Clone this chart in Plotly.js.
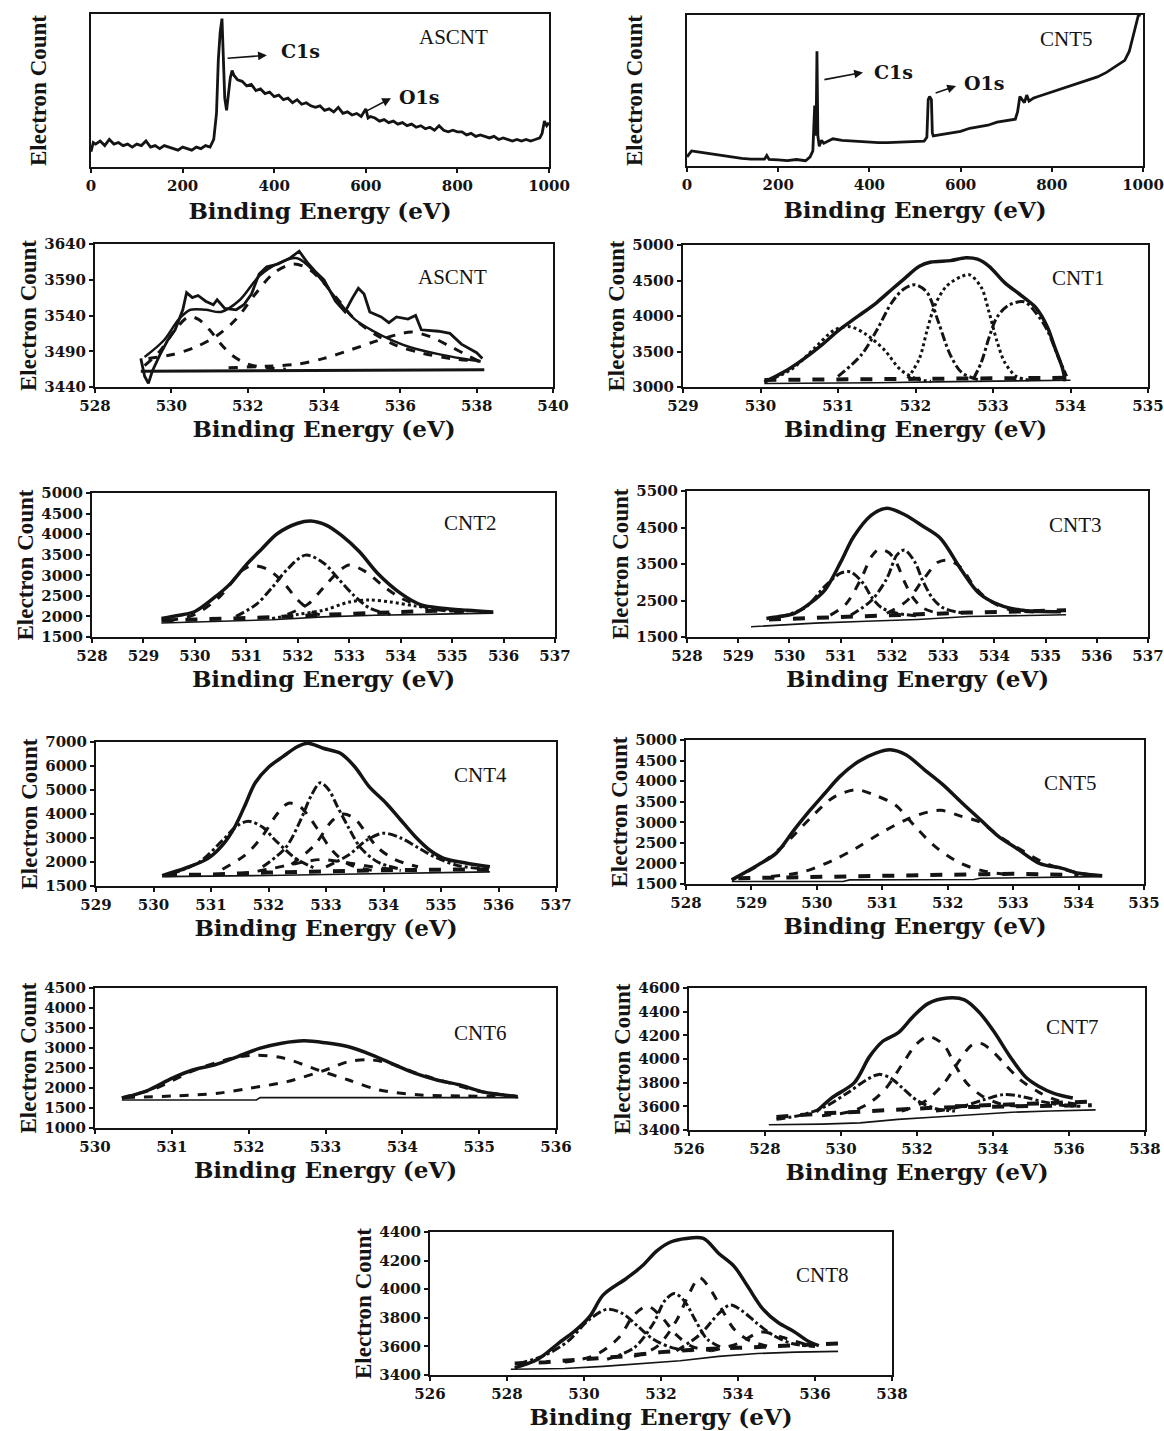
<!DOCTYPE html>
<html><head><meta charset="utf-8">
<script src="https://cdn.plot.ly/plotly-3.0.1.min.js"></script>
<style>html,body{margin:0;padding:0;background:#fff;}#chart{width:1164px;height:1431px;}</style>
</head><body><div id="chart"></div>
<script>
// ---------- DATA ----------
// Survey ASCNT (arbitrary intensity 0-100)
const surveyAscntX = [0,5,10,20,30,40,50,60,70,80,90,100,110,120,130,140,150,160,170,180,190,200,210,220,230,240,250,260,268,274,278,282,286,289,292,296,300,304,308,312,320,330,340,350,360,370,380,390,400,410,420,430,440,450,460,470,480,490,500,510,520,530,540,550,560,570,580,590,600,605,610,620,630,640,650,660,670,680,690,700,710,720,730,740,750,760,770,780,790,800,810,820,830,840,850,860,870,880,890,900,910,920,930,940,950,960,970,980,985,990,995,1000];
const surveyAscntY = [10,16,15,17,14,18,15,16,14,15,13,15,14,17,13,14,12,14,13,12,11,13,12,11,13,12,14,13,18,35,70,88,97,75,45,37,48,58,63,60,57,56,53,54,50,51,48,49,46,47,44,45,42,44,41,42,40,39,40,37,38,36,39,35,36,34,35,33,38,32,33,32,30,31,29,30,28,29,27,28,26,27,25,26,24,27,24,23,24,23,23,21,22,20,21,20,19,20,18,19,18,17,18,17,18,17,18,19,22,30,27,29];
// Survey CNT5
const surveyCnt5X = [0,10,20,40,60,80,100,120,140,160,170,175,180,200,220,240,260,270,276,280,283,285,287,290,295,300,320,340,360,380,400,420,440,460,480,500,520,526,529,532,536,538,540,560,580,600,620,640,660,680,700,720,725,730,735,740,745,750,755,760,770,780,800,820,840,860,880,900,920,940,950,960,970,975,980,985,990,995];
const surveyCnt5Y = [6,10,9.5,8.5,8,6.5,6,5,4.5,4.8,4.5,7,4.4,4,3.5,4.3,3.5,6,10,40,20,76,20,13,17,15,18,17,16.5,16,15.5,15.5,15.5,15.8,15.8,16,16.5,19,44,46,44,22,20,21,22,23,25,26,27,29,30,31,36,46,44,42,47,43,44,45,46,47,49,51,53,55,57,59,62,66,68,70,76,82,90,95,100,100];

// O1s ASCNT
const ascntRawX = [529.2,529.3,529.4,529.5,529.7,529.9,530.1,530.3,530.4,530.55,530.7,530.9,531.1,531.2,531.4,531.7,531.9,532.1,532.3,532.5,532.8,533.1,533.35,533.55,533.8,534.0,534.3,534.55,534.75,534.9,535.05,535.2,535.5,535.7,535.9,536.2,536.4,536.55,537.0,537.3,537.6,538.0,538.15];
const ascntRawY = [3480,3455,3445,3462,3485,3505,3520,3548,3572,3565,3568,3560,3555,3562,3550,3548,3555,3570,3598,3608,3612,3620,3630,3615,3600,3590,3560,3545,3565,3578,3570,3545,3538,3530,3538,3535,3540,3520,3518,3515,3500,3488,3480];
const ascntFitX = [529.3,529.8,530.2,530.5,530.9,531.3,531.8,532.3,532.8,533.3,533.8,534.3,534.8,535.3,535.8,536.3,537.0,537.6,538.1];
const ascntFitY = [3482,3505,3535,3548,3548,3545,3562,3595,3613,3620,3598,3565,3535,3518,3505,3495,3486,3480,3476];
const ascntP1X = [529.3,529.7,530.1,530.45,530.7,531.0,531.3,531.6,532.0,532.5,533.0];
const ascntP1Y = [3470,3490,3520,3538,3535,3520,3500,3484,3472,3467,3465];
const ascntP2X = [529.4,530.0,530.6,531.2,531.7,532.2,532.7,533.2,533.6,534.0,534.4,534.8,535.3,535.9,536.6,537.3,538.1];
const ascntP2Y = [3480,3485,3495,3512,3535,3570,3600,3612,3605,3585,3560,3535,3515,3498,3487,3480,3476];
const ascntP3X = [531.5,532.5,533.3,534.0,534.7,535.3,535.9,536.3,536.8,537.3,537.8,538.1];
const ascntP3Y = [3467,3469,3472,3480,3492,3503,3513,3517,3510,3497,3483,3475];
const ascntBaseX = [529.2,538.2];
const ascntBaseY = [3462,3464];

// O1s CNT1
const cnt1EnvX = [530.05,530.3,530.55,530.8,531.0,531.25,531.5,531.7,531.85,532.05,532.2,532.45,532.65,532.8,532.95,533.15,533.4,533.55,533.7,533.8,533.9,533.93];
const cnt1EnvY = [3070,3210,3390,3600,3790,3990,4190,4380,4520,4700,4760,4780,4820,4800,4700,4470,4260,4120,3850,3550,3250,3080];
const cnt1P1X = [530.05,530.4,530.7,530.95,531.15,531.35,531.6,531.8,532.0,532.2];
const cnt1P1Y = [3070,3250,3550,3800,3850,3750,3520,3250,3120,3080];
const cnt1P2X = [531.0,531.3,531.5,531.7,531.85,532.0,532.15,532.3,532.45,532.6,532.85];
const cnt1P2Y = [3150,3450,3800,4200,4380,4440,4330,3900,3450,3200,3090];
const cnt1P3X = [531.9,532.05,532.15,532.25,532.4,532.6,532.7,532.85,532.95,533.05,533.15,533.3,533.5];
const cnt1P3Y = [3120,3400,3800,4150,4420,4560,4580,4400,4050,3650,3350,3150,3090];
const cnt1P4X = [532.75,532.85,532.95,533.05,533.2,533.4,533.55,533.7,533.85,533.95];
const cnt1P4Y = [3120,3350,3700,3980,4150,4200,4050,3800,3400,3150];
const cnt1BgX = [530.05,531.0,532.0,533.0,534.0];
const cnt1BgY = [3100,3110,3120,3130,3130];
const cnt1BaseX = [530.05,531.3,531.5,532.5,533.5,534.0];
const cnt1BaseY = [3050,3050,3060,3075,3090,3095];

// O1s CNT2
const cnt2EnvX = [529.35,529.7,530.0,530.4,530.7,531.0,531.3,531.6,532.0,532.25,532.55,532.85,533.2,533.55,534.0,534.4,534.8,535.3,535.8];
const cnt2EnvY = [1950,2030,2120,2480,2810,3260,3640,4010,4265,4320,4220,3970,3570,3050,2560,2280,2200,2150,2110];
const cnt2P1X = [529.5,530.0,530.5,530.9,531.1,531.4,531.7,532.0,532.3,532.6];
const cnt2P1Y = [1900,2050,2500,3100,3230,3150,2850,2400,2100,1980];
const cnt2P2X = [530.8,531.2,531.5,531.8,532.15,532.5,532.8,533.1,533.4,533.8];
const cnt2P2Y = [2000,2300,2700,3150,3490,3300,2900,2500,2200,2050];
const cnt2P3X = [531.8,532.2,532.5,532.8,533.0,533.3,533.7,534.0,534.4,534.8,535.3];
const cnt2P3Y = [2050,2300,2700,3100,3250,3100,2700,2450,2250,2150,2100];
const cnt2P4X = [531.5,532.0,532.5,533.0,533.4,533.8,534.3,534.8,535.3];
const cnt2P4Y = [1950,2050,2150,2350,2400,2350,2250,2170,2120];
const cnt2BgX = [529.35,530.5,531.5,532.5,533.5,534.5,535.3];
const cnt2BgY = [1900,1940,1980,2040,2090,2130,2150];
const cnt2BaseX = [529.35,530.5,531.5,532.5,533.5,534.5,535.8];
const cnt2BaseY = [1840,1880,1920,1990,2030,2050,2080];

// O1s CNT3
const cnt3EnvX = [529.55,529.8,530.1,530.4,530.7,531.0,531.25,531.6,531.9,532.25,532.6,532.95,533.35,533.7,534.1,534.5,535.3];
const cnt3EnvY = [2010,2060,2150,2420,2800,3550,4240,4840,5030,4850,4540,4200,3350,2700,2380,2240,2190];
const cnt3P1X = [529.8,530.3,530.7,531.0,531.2,531.45,531.6,531.8,532.1,532.5];
const cnt3P1Y = [2050,2300,2900,3250,3280,2950,2600,2300,2150,2080];
const cnt3P2X = [530.8,531.1,531.4,531.6,531.75,531.95,532.1,532.25,532.4,532.6,532.9];
const cnt3P2Y = [2100,2400,3100,3700,3900,3800,3500,3000,2600,2300,2150];
const cnt3P3X = [531.2,531.6,531.9,532.1,532.25,532.45,532.6,532.8,533.0,533.4];
const cnt3P3Y = [2100,2500,3100,3750,3880,3550,3050,2550,2300,2150];
const cnt3P4X = [531.9,532.3,532.6,532.9,533.1,533.35,533.6,533.9,534.3,534.8];
const cnt3P4Y = [2150,2500,3050,3550,3600,3400,2900,2500,2250,2180];
const cnt3BgX = [529.6,530.5,531.5,532.5,533.5,534.5,535.4];
const cnt3BgY = [1980,2030,2080,2130,2170,2200,2230];
const cnt3BaseX = [529.25,530.5,531.5,532.5,533.5,534.5,535.4];
const cnt3BaseY = [1780,1880,1930,1980,2060,2090,2110];

// O1s CNT4
const cnt4EnvX = [530.15,530.55,530.95,531.2,531.4,531.58,531.77,532.0,532.25,532.5,532.68,532.95,533.25,533.5,533.75,534.05,534.3,534.55,534.8,535.05,535.45,535.85];
const cnt4EnvY = [1430,1740,2150,2700,3400,4300,5300,5950,6390,6800,6950,6740,6530,5970,5140,4440,3750,3060,2500,2150,1950,1800];
const cnt4P1X = [530.3,530.8,531.2,531.45,531.65,531.9,532.1,532.3,532.5,532.8];
const cnt4P1Y = [1500,2000,2900,3500,3700,3450,2950,2500,2100,1750];
const cnt4P2X = [531.2,531.6,531.9,532.15,532.35,532.55,532.7,532.9,533.1,533.4,533.8];
const cnt4P2Y = [1700,2300,3100,4000,4450,4300,3900,3200,2500,1900,1650];
const cnt4P3X = [531.9,532.3,532.55,532.75,532.9,533.05,533.2,533.4,533.6,533.9,534.3];
const cnt4P3Y = [1800,2600,3700,4800,5300,5000,4300,3400,2600,2000,1700];
const cnt4P4X = [532.4,532.8,533.1,533.3,533.5,533.7,533.9,534.2,534.6];
const cnt4P4Y = [1900,2700,3700,4000,3800,3200,2600,2100,1800];
const cnt4P5X = [533.0,533.4,533.7,534.0,534.3,534.6,534.9,535.3,535.8];
const cnt4P5Y = [1800,2300,2900,3200,3000,2600,2200,1850,1700];
const cnt4P6X = [531.5,532.0,532.5,532.9,533.3,533.8,534.3];
const cnt4P6Y = [1500,1700,1950,2100,2000,1800,1650];
const cnt4BgX = [530.2,531.0,532.0,533.0,534.0,535.0,535.85];
const cnt4BgY = [1450,1480,1560,1620,1660,1680,1690];
const cnt4BaseX = [530.15,531.0,532.0,533.0,534.0,535.0,535.85];
const cnt4BaseY = [1390,1400,1440,1480,1520,1560,1590];
const cnt4TickVals = [1000,2000,3000,4000,5000,6000,7000];
const cnt4TickText = ['1500','2000','3000','4000','5000','6000','7000'];

// O1s CNT5
const cnt5EnvX = [528.7,529.1,529.38,529.65,529.9,530.12,530.35,530.63,530.9,531.12,531.36,531.65,531.93,532.2,532.5,532.78,533.05,533.4,533.75,534.0,534.36];
const cnt5EnvY = [1600,1960,2250,2810,3300,3700,4110,4470,4680,4760,4640,4270,3910,3500,3060,2650,2370,2000,1880,1760,1700];
const cnt5P1X = [528.7,529.1,529.5,529.9,530.25,530.6,530.9,531.2,531.5,531.8,532.2,532.6,533.0];
const cnt5P1Y = [1600,1950,2450,3100,3600,3790,3650,3420,2900,2420,2000,1800,1720];
const cnt5P2X = [529.3,529.8,530.25,530.6,530.97,531.36,531.7,531.9,532.2,532.5,532.8,533.1,533.5,534.0,534.36];
const cnt5P2Y = [1680,1800,2080,2370,2730,3060,3250,3290,3150,3000,2650,2350,2000,1770,1700];
const cnt5BgX = [528.8,529.5,530.0,530.5,531.5,532.6,533.0,533.5,534.0];
const cnt5BgY = [1640,1660,1690,1700,1720,1740,1750,1740,1720];
const cnt5BaseX = [528.7,530.4,530.5,532.4,532.5,534.36];
const cnt5BaseY = [1560,1560,1600,1610,1640,1680];

// O1s CNT6
const cnt6EnvX = [530.35,530.7,531.0,531.27,531.56,531.85,532.14,532.43,532.72,533.0,533.3,533.6,533.9,534.16,534.45,534.74,535.03,535.3,535.5];
const cnt6EnvY = [1740,1950,2240,2450,2580,2780,2990,3120,3180,3130,3030,2830,2580,2370,2200,2080,1910,1830,1780];
const cnt6P1X = [530.35,530.8,531.3,531.8,532.1,532.45,532.9,533.3,533.7,534.2,534.8,535.5];
const cnt6P1Y = [1760,2000,2450,2750,2820,2750,2450,2200,1950,1830,1800,1790];
const cnt6P2X = [530.4,531.0,531.6,532.0,532.5,533.0,533.3,533.6,533.9,534.2,534.5,535.0,535.5];
const cnt6P2Y = [1760,1800,1870,1990,2160,2450,2660,2700,2580,2360,2190,1920,1790];
const cnt6BaseX = [530.35,532.1,532.15,535.51];
const cnt6BaseY = [1700,1700,1760,1760];

// O1s CNT7
const cnt7EnvX = [529.35,529.75,530.35,530.75,531.1,531.5,531.9,532.3,532.8,533.25,533.65,534.05,534.45,534.85,535.2,535.6,536.1];
const cnt7EnvY = [3555,3670,3800,4020,4150,4220,4360,4470,4515,4500,4390,4220,4020,3850,3770,3710,3670];
const cnt7P1X = [528.3,529.0,529.6,530.2,530.7,531.0,531.3,531.6,532.0,532.5,533.0];
const cnt7P1Y = [3490,3530,3600,3720,3830,3870,3840,3760,3650,3580,3560];
const cnt7P2X = [529.5,530.3,530.8,531.2,531.6,532.0,532.3,532.7,533.0,533.3,533.7,534.2,534.8];
const cnt7P2Y = [3520,3560,3640,3760,3950,4130,4190,4120,3950,3800,3690,3620,3600];
const cnt7P3X = [531.6,532.2,532.7,533.1,533.45,533.7,534.0,534.3,534.7,535.2,535.7,536.2];
const cnt7P3Y = [3560,3640,3790,3980,4120,4130,4060,3960,3830,3720,3650,3620];
const cnt7P4X = [532.5,533.2,533.8,534.3,534.8,535.3,535.8,536.3];
const cnt7P4Y = [3560,3600,3660,3700,3680,3640,3610,3600];
const cnt7BgX = [528.3,529.5,530.5,531.5,532.5,533.5,534.5,535.5,536.6];
const cnt7BgY = [3510,3540,3555,3570,3590,3595,3600,3605,3610];
const cnt7Bg2X = [533.0,534.0,535.0,536.0,536.6];
const cnt7Bg2Y = [3600,3610,3620,3635,3640];
const cnt7BaseX = [528.1,529.5,530.5,531.5,532.5,533.5,534.5,535.5,536.7];
const cnt7BaseY = [3445,3450,3460,3490,3510,3530,3550,3560,3570];

// O1s CNT8
const cnt8EnvX = [528.2,528.8,529.35,529.75,530.15,530.5,531.1,531.5,531.9,532.25,532.65,533.1,533.5,533.9,534.25,534.65,535.05,535.45,535.8,536.1];
const cnt8EnvY = [3450,3510,3625,3705,3810,3960,4075,4160,4270,4330,4355,4355,4250,4160,4020,3860,3765,3705,3640,3605];
const cnt8P1X = [528.3,529.0,529.6,530.1,530.6,531.0,531.4,531.8,532.3,532.8];
const cnt8P1Y = [3480,3540,3640,3780,3860,3830,3740,3650,3590,3570];
const cnt8P2X = [529.5,530.3,530.9,531.3,531.65,532.0,532.4,532.8,533.3];
const cnt8P2Y = [3490,3540,3660,3820,3880,3810,3680,3600,3570];
const cnt8P3X = [530.6,531.3,531.8,532.1,532.35,532.6,532.9,533.2,533.6];
const cnt8P3Y = [3510,3590,3760,3920,3970,3920,3780,3650,3590];
const cnt8P4X = [531.3,531.9,532.4,532.75,533.0,533.3,533.6,533.9,534.3,534.8];
const cnt8P4Y = [3530,3600,3780,3980,4080,3990,3850,3720,3640,3600];
const cnt8P5X = [532.4,533.0,533.5,533.8,534.1,534.5,534.9,535.4,536.0];
const cnt8P5Y = [3570,3680,3830,3890,3850,3760,3680,3620,3600];
const cnt8P6X = [533.3,534.0,534.6,535.2,535.8];
const cnt8P6Y = [3570,3620,3700,3660,3610];
const cnt8BgX = [528.2,529.0,530.0,531.0,532.0,533.0,534.0,535.0,536.0,536.6];
const cnt8BgY = [3480,3490,3510,3530,3560,3580,3590,3600,3610,3620];
const cnt8BaseX = [528.1,529.5,530.5,531.5,532.5,533.5,534.5,535.5,536.6];
const cnt8BaseY = [3440,3445,3460,3480,3500,3530,3550,3560,3565];

const sampleNames = ['ASCNT','CNT5','ASCNT','CNT1','CNT2','CNT3','CNT4','CNT5','CNT6','CNT7','CNT8'];
const xTitle = 'Binding Energy (eV)';
const yTitle = 'Electron Count';

// ---------- LAYOUT / STYLE ----------
const W = 1164, H = 1431;
const INK = '#141414';
const SERIF_B = 'DejaVu Serif';
const SERIF = 'Liberation Serif';

// panel boxes in px: l, t, r, b ; axis ranges; title offsets
const panels = [
  {l:91, t:14, r:549, b:167, xr:[0,1000], dx:200, yr:[0,100], dy:null, xs:9, ys:36, lab:[453,37]},
  {l:687,t:15, r:1143,b:166, xr:[0,1000], dx:200, yr:[0,100], dy:null, xs:9, ys:36, lab:[1066,39]},
  {l:95, t:244,r:553, b:387, xr:[528,540], dx:2, yr:[3440,3640], dy:50, xs:3, ys:1, lab:[452,277]},
  {l:683,t:245,r:1148,b:387, xr:[529,535], dx:1, yr:[3000,5000], dy:500, xs:3, ys:1, lab:[1078,278]},
  {l:92, t:493,r:555, b:637, xr:[528,537], dx:1, yr:[1500,5000], dy:500, xs:0, ys:1, lab:[470,523]},
  {l:687,t:491,r:1148,b:637, xr:[528,537], dx:1, yr:[1500,5500], dy:1000, xs:0, ys:1, lab:[1075,525]},
  {l:96, t:742,r:556, b:886, xr:[529,537], dx:1, yr:[1000,7000], dy:1000, xs:0, ys:1, lab:[480,775], tv:cnt4TickVals, tt:cnt4TickText},
  {l:686,t:740,r:1144,b:884, xr:[528,535], dx:1, yr:[1500,5000], dy:500, xs:0, ys:1, lab:[1070,783]},
  {l:95, t:988,r:556, b:1128, xr:[530,536], dx:1, yr:[1000,4500], dy:500, xs:0, ys:1, lab:[480,1033]},
  {l:689,t:988,r:1145,b:1130, xr:[526,538], dx:2, yr:[3400,4600], dy:200, xs:0, ys:1, lab:[1072,1027]},
  {l:430,t:1232,r:892,b:1375, xr:[526,538], dx:2, yr:[3400,4400], dy:200, xs:1, ys:1, lab:[822,1275]}
];

const ENV = {width:3.5, dash:'solid'};
const RAW = {width:2.8, dash:'solid'};
const COMP_A = {width:3, dash:'dash'};
const COMP_B = {width:3, dash:'dashdot'};
const COMP_C = {width:3, dash:'dot'};
const BG = {width:4, dash:'dash'};
const BASE = {width:1.6, dash:'solid'};

const traces = [];
function add(i, x, y, st, shape) {
  traces.push({
    x: x, y: y, type:'scatter', mode:'lines',
    xaxis: i === 1 ? 'x' : 'x' + i, yaxis: i === 1 ? 'y' : 'y' + i,
    line: {color: INK, width: st.width, dash: st.dash, shape: shape || 'spline', smoothing: 0.9},
    showlegend:false, hoverinfo:'skip'
  });
}

add(1, surveyAscntX, surveyAscntY, RAW, 'linear');
add(2, surveyCnt5X, surveyCnt5Y, RAW, 'linear');

add(3, ascntBaseX, ascntBaseY, {width:3, dash:'solid'}, 'linear');
add(3, ascntP1X, ascntP1Y, COMP_A);
add(3, ascntP2X, ascntP2Y, COMP_A);
add(3, ascntP3X, ascntP3Y, COMP_A);
add(3, ascntFitX, ascntFitY, {width:2.5, dash:'solid'});
add(3, ascntRawX, ascntRawY, RAW, 'linear');

add(4, cnt1BaseX, cnt1BaseY, BASE, 'linear');
add(4, cnt1BgX, cnt1BgY, BG, 'linear');
add(4, cnt1P1X, cnt1P1Y, COMP_C);
add(4, cnt1P2X, cnt1P2Y, COMP_B);
add(4, cnt1P3X, cnt1P3Y, COMP_C);
add(4, cnt1P4X, cnt1P4Y, COMP_B);
add(4, cnt1EnvX, cnt1EnvY, ENV);

add(5, cnt2BaseX, cnt2BaseY, BASE, 'linear');
add(5, cnt2BgX, cnt2BgY, BG, 'linear');
add(5, cnt2P1X, cnt2P1Y, COMP_A);
add(5, cnt2P2X, cnt2P2Y, COMP_B);
add(5, cnt2P3X, cnt2P3Y, COMP_A);
add(5, cnt2P4X, cnt2P4Y, COMP_C);
add(5, cnt2EnvX, cnt2EnvY, ENV);

add(6, cnt3BaseX, cnt3BaseY, BASE, 'linear');
add(6, cnt3BgX, cnt3BgY, BG, 'linear');
add(6, cnt3P1X, cnt3P1Y, COMP_B);
add(6, cnt3P2X, cnt3P2Y, COMP_A);
add(6, cnt3P3X, cnt3P3Y, COMP_B);
add(6, cnt3P4X, cnt3P4Y, COMP_A);
add(6, cnt3EnvX, cnt3EnvY, ENV);

add(7, cnt4BaseX, cnt4BaseY, BASE, 'linear');
add(7, cnt4BgX, cnt4BgY, BG, 'linear');
add(7, cnt4P1X, cnt4P1Y, COMP_B);
add(7, cnt4P2X, cnt4P2Y, COMP_A);
add(7, cnt4P3X, cnt4P3Y, COMP_B);
add(7, cnt4P4X, cnt4P4Y, COMP_A);
add(7, cnt4P5X, cnt4P5Y, COMP_B);
add(7, cnt4P6X, cnt4P6Y, COMP_A);
add(7, cnt4EnvX, cnt4EnvY, ENV);

add(8, cnt5BaseX, cnt5BaseY, BASE, 'linear');
add(8, cnt5BgX, cnt5BgY, BG, 'linear');
add(8, cnt5P1X, cnt5P1Y, COMP_A);
add(8, cnt5P2X, cnt5P2Y, COMP_A);
add(8, cnt5EnvX, cnt5EnvY, ENV);

add(9, cnt6BaseX, cnt6BaseY, BASE, 'linear');
add(9, cnt6P1X, cnt6P1Y, COMP_A);
add(9, cnt6P2X, cnt6P2Y, COMP_A);
add(9, cnt6EnvX, cnt6EnvY, ENV);

add(10, cnt7BaseX, cnt7BaseY, BASE, 'linear');
add(10, cnt7BgX, cnt7BgY, BG, 'linear');
add(10, cnt7Bg2X, cnt7Bg2Y, BG, 'linear');
add(10, cnt7P1X, cnt7P1Y, COMP_B);
add(10, cnt7P2X, cnt7P2Y, COMP_A);
add(10, cnt7P3X, cnt7P3Y, COMP_A);
add(10, cnt7P4X, cnt7P4Y, COMP_B);
add(10, cnt7EnvX, cnt7EnvY, ENV);

add(11, cnt8BaseX, cnt8BaseY, BASE, 'linear');
add(11, cnt8BgX, cnt8BgY, BG, 'linear');
add(11, cnt8P1X, cnt8P1Y, COMP_B);
add(11, cnt8P2X, cnt8P2Y, COMP_A);
add(11, cnt8P3X, cnt8P3Y, COMP_B);
add(11, cnt8P4X, cnt8P4Y, COMP_A);
add(11, cnt8P5X, cnt8P5Y, COMP_B);
add(11, cnt8P6X, cnt8P6Y, COMP_A);
add(11, cnt8EnvX, cnt8EnvY, ENV);

const layout = {
  width: W, height: H,
  margin: {l:0, r:0, t:0, b:0},
  paper_bgcolor:'#ffffff', plot_bgcolor:'#ffffff',
  showlegend:false,
  annotations: []
};

panels.forEach((p, k) => {
  const i = k + 1;
  const survey = p.dy === null;
  const xa = {
    domain:[p.l / W, p.r / W], range:p.xr, anchor: i === 1 ? 'y' : 'y' + i,
    tick0:p.xr[0], dtick:p.dx, tickformat:'d',
    showline:true, mirror:true, linecolor:INK, linewidth:2,
    ticks:'outside', ticklen:4, tickwidth:2, tickcolor:INK,
    showgrid:false, zeroline:false, fixedrange:true,
    tickfont:{family:SERIF_B, size:15, color:INK, weight:'bold'},
    title:{text:xTitle, standoff:p.xs, font:{family:SERIF_B, size:23, color:INK, weight:'bold'}}
  };
  const ya = {
    domain:[1 - p.b / H, 1 - p.t / H], range:p.yr, anchor: i === 1 ? 'x' : 'x' + i,
    showline:true, mirror:true, linecolor:INK, linewidth:2,
    showgrid:false, zeroline:false, fixedrange:true,
    title:{text:yTitle, standoff:p.ys, font:{family:SERIF, size:23, color:INK, weight:700}}
  };
  if (survey) {
    ya.showticklabels = false; ya.ticks = '';
  } else {
    Object.assign(ya, {
      ticks:'outside', ticklen:4, tickwidth:2, tickcolor:INK, tickformat:'d',
      tickfont:{family:SERIF_B, size:15, color:INK, weight:'bold'}
    });
    if (p.tv) { ya.tickmode = 'array'; ya.tickvals = p.tv; ya.ticktext = p.tt; }
    else { ya.tick0 = p.yr[0]; ya.dtick = p.dy; }
  }
  layout[i === 1 ? 'xaxis' : 'xaxis' + i] = xa;
  layout[i === 1 ? 'yaxis' : 'yaxis' + i] = ya;
  layout.annotations.push({
    xref:'paper', yref:'paper', x:p.lab[0] / W, y:1 - p.lab[1] / H,
    xanchor:'center', yanchor:'middle', showarrow:false,
    text:sampleNames[k], font:{family:SERIF, size:21, color:INK}
  });
});

// peak markers on the survey spectra
function arrow(i, tail, head, label, labelPos) {
  const xr = i === 1 ? 'x' : 'x' + i, yr = i === 1 ? 'y' : 'y' + i;
  layout.annotations.push({
    xref:xr, yref:yr, axref:xr, ayref:yr, x:head[0], y:head[1], ax:tail[0], ay:tail[1],
    text:'', showarrow:true, arrowhead:2, arrowsize:1.1, arrowwidth:1.6, arrowcolor:INK
  });
  layout.annotations.push({
    xref:xr, yref:yr, x:labelPos[0], y:labelPos[1], xanchor:'left', yanchor:'middle',
    showarrow:false, text:label, font:{family:SERIF_B, size:19, color:INK, weight:'bold'}
  });
}
arrow(1, [295,71], [384,73], 'C1s', [410,76]);
arrow(1, [598,36], [655,45], 'O1s', [668,46]);
arrow(2, [298,57], [386,62], 'C1s', [406,62]);
arrow(2, [542,48], [590,53], 'O1s', [603,55]);

Plotly.newPlot('chart', traces, layout, {staticPlot:true, displayModeBar:false});
</script>
</body></html>
